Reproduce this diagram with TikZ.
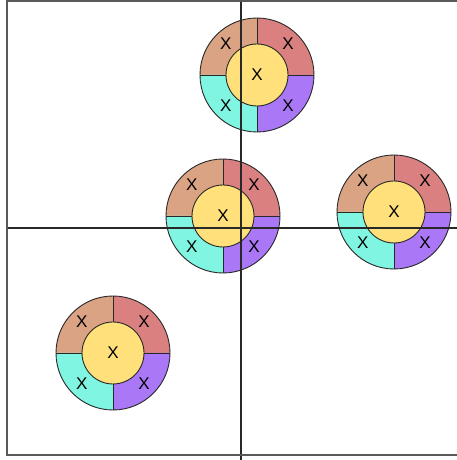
\documentclass[tikz,border=0pt]{standalone}
\usepackage{fontspec}
\setmainfont{Liberation Sans}
\usepackage{xcolor}
\definecolor{clrTan}{RGB}{218,164,132}
\definecolor{clrRed}{RGB}{218,128,128}
\definecolor{clrCyan}{RGB}{128,246,226}
\definecolor{clrPurple}{RGB}{170,120,246}
\definecolor{clrYellow}{RGB}{255,224,122}
\definecolor{clrLine}{RGB}{40,40,40}
\tikzset{
  rim/.style={draw=clrLine,line width=0.9pt},
  xlab/.style={font=\fontsize{17}{17}\selectfont,inner sep=0pt},
  axis/.style={draw=clrLine,line width=1.2pt},
  border/.style={draw=gray!70!black,line width=2pt},
  dial/.pic={
    \fill[clrRed] (0,0) -- (0:57) arc[start angle=0,end angle=90,radius=57] -- cycle;
    \fill[clrTan] (0,0) -- (90:57) arc[start angle=90,end angle=180,radius=57] -- cycle;
    \fill[clrCyan] (0,0) -- (180:57) arc[start angle=180,end angle=270,radius=57] -- cycle;
    \fill[clrPurple] (0,0) -- (270:57) arc[start angle=270,end angle=360,radius=57] -- cycle;
    \draw[rim] (0,0) circle[radius=57];
    \draw[rim] (0:31) -- (0:57) (90:31) -- (90:57)
      (180:31) -- (180:57) (270:31) -- (270:57);
    \draw[rim,fill=clrYellow] (0,0) circle[radius=31];
    \node[xlab] (-c) at (0,0) {X};
    \node[xlab] (-ne) at (45:44) {X};
    \node[xlab] (-nw) at (135:44) {X};
    \node[xlab] (-sw) at (225:44) {X};
    \node[xlab] (-se) at (315:44) {X};
  }
}
\begin{document}
\begin{tikzpicture}[x=1pt,y=1pt]
  \useasboundingbox (0,0) rectangle (457,460);
  \pic (top) at (257,385) {dial};
  \pic (mid) at (223,244) {dial};
  \pic (right) at (394,248) {dial};
  \pic (low) at (113,107) {dial};
  \draw[axis] (241,0) -- (241,460);
  \draw[axis] (7,232) -- (457,232);
  \draw[border] (457,458.5) -- (7,458.5) -- (7,5) -- (457,5);
\end{tikzpicture}
\end{document}
